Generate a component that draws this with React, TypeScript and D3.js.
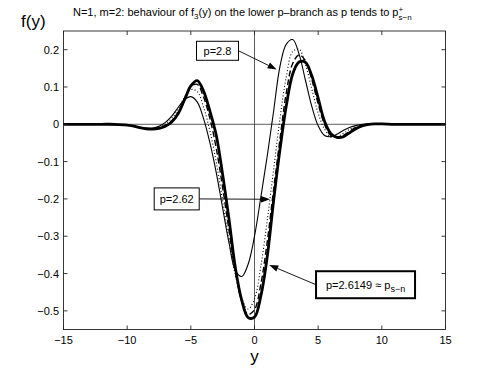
import * as d3 from 'd3';
import { useEffect, useRef } from 'react';

// sample points along y, and f3(y) for each p
const yValues = [-15, -14, -13, -12, -11, -10, -9.5, -9, -8.5, -8, -7.5, -7, -6.5, -6, -5.5, -5, -4.5, -4, -3.5, -3, -2.5, -2, -1.5, -1, -0.5, 0, 0.5, 1, 1.5, 2, 2.5, 3, 3.5, 4, 4.5, 5, 5.5, 6, 6.5, 7, 7.5, 8, 8.5, 9, 9.5, 10, 11, 12, 13, 14, 15];

const fP28 = [0, 0, 0, 0, -0.001, -0.002, -0.005, -0.009, -0.011, -0.010, -0.005, 0.005, 0.022, 0.045, 0.066, 0.074, 0.060, 0.015, -0.050, -0.130, -0.225, -0.318, -0.392, -0.408, -0.375, -0.300, -0.195, -0.085, 0.035, 0.155, 0.215, 0.227, 0.188, 0.118, 0.048, -0.004, -0.030, -0.033, -0.026, -0.016, -0.008, -0.003, 0, 0.001, 0.001, 0, 0, 0, 0, 0, 0];

const fDotted = [0, 0, 0, 0, -0.001, -0.002, -0.005, -0.009, -0.012, -0.012, -0.008, 0.001, 0.016, 0.040, 0.073, 0.093, 0.088, 0.046, -0.018, -0.102, -0.205, -0.312, -0.405, -0.468, -0.495, -0.468, -0.380, -0.258, -0.122, 0.015, 0.128, 0.195, 0.201, 0.160, 0.095, 0.030, -0.013, -0.034, -0.033, -0.024, -0.013, -0.005, -0.001, 0.001, 0.001, 0.001, 0, 0, 0, 0, 0];

const fP262 = [0, 0, 0, 0, -0.001, -0.002, -0.005, -0.009, -0.012, -0.013, -0.010, -0.003, 0.009, 0.032, 0.069, 0.101, 0.107, 0.073, 0.015, -0.065, -0.170, -0.285, -0.395, -0.475, -0.510, -0.497, -0.428, -0.315, -0.175, -0.040, 0.085, 0.163, 0.186, 0.170, 0.120, 0.055, 0, -0.030, -0.036, -0.030, -0.018, -0.008, -0.002, 0, 0.001, 0.001, 0, 0, 0, 0, 0];

const fP26149 = [0, 0, 0, 0, 0, -0.002, -0.005, -0.009, -0.012, -0.013, -0.011, -0.005, 0.006, 0.028, 0.065, 0.103, 0.117, 0.089, 0.035, -0.030, -0.135, -0.255, -0.385, -0.472, -0.518, -0.517, -0.460, -0.355, -0.205, -0.068, 0.050, 0.135, 0.167, 0.166, 0.130, 0.070, 0.008, -0.025, -0.035, -0.033, -0.022, -0.011, -0.004, 0, 0.001, 0.001, 0, 0, 0, 0, 0];

const xTicks = [-15, -10, -5, 0, 5, 10, 15];
const yTicks = [0.2, 0.1, 0, -0.1, -0.2, -0.3, -0.4, -0.5];

const FONT = '"Liberation Sans", Arial, Helvetica, sans-serif';
const minus = (v: number) => String(v).replace('-', '\u2212');

export default function App() {
  const ref = useRef<SVGSVGElement>(null);

  useEffect(() => {
    const svg = d3.select(ref.current);
    svg.selectAll('*').remove();

    const box = { left: 63.5, right: 445.5, top: 31, bottom: 329.5 };
    const x = d3.scaleLinear().domain([-15, 15]).range([box.left, box.right]);
    const y = d3.scaleLinear().domain([-0.55, 0.25]).range([box.bottom, box.top]);

    svg.append('rect').attr('width', 493).attr('height', 370).attr('fill', '#fff');

    // axis lines through the origin
    svg.append('line').attr('x1', x(0)).attr('x2', x(0)).attr('y1', box.top).attr('y2', box.bottom)
      .attr('stroke', '#333').attr('stroke-width', 0.8);
    svg.append('line').attr('x1', box.left).attr('x2', box.right).attr('y1', y(0)).attr('y2', y(0))
      .attr('stroke', '#333').attr('stroke-width', 0.8);

    const line = d3.line<number>()
      .x((_, i) => x(yValues[i]))
      .y((d) => y(d))
      .curve(d3.curveCatmullRom.alpha(0.5));

    const series = [
      { values: fP28, width: 1.1, dash: null },
      { values: fDotted, width: 1.1, dash: '1,2.2' },
      { values: fP262, width: 1.4, dash: '6,3' },
      { values: fP26149, width: 2.8, dash: null },
    ];
    series.forEach((s) => {
      svg.append('path').attr('d', line(s.values)).attr('fill', 'none')
        .attr('stroke', '#000').attr('stroke-width', s.width)
        .attr('stroke-dasharray', s.dash).attr('stroke-linejoin', 'round');
    });

    // frame and ticks
    svg.append('rect').attr('x', box.left).attr('y', box.top)
      .attr('width', box.right - box.left).attr('height', box.bottom - box.top)
      .attr('fill', 'none').attr('stroke', '#222').attr('stroke-width', 0.9);

    const tick = 4;
    xTicks.forEach((t) => {
      svg.append('line').attr('x1', x(t)).attr('x2', x(t)).attr('y1', box.bottom).attr('y2', box.bottom - tick).attr('stroke', '#222').attr('stroke-width', 0.9);
      svg.append('line').attr('x1', x(t)).attr('x2', x(t)).attr('y1', box.top).attr('y2', box.top + tick).attr('stroke', '#222').attr('stroke-width', 0.9);
      svg.append('text').attr('x', x(t)).attr('y', 344).attr('text-anchor', 'middle')
        .attr('font-family', FONT).attr('font-size', 11).text(minus(t));
    });
    yTicks.forEach((t) => {
      svg.append('line').attr('x1', box.left).attr('x2', box.left + tick).attr('y1', y(t)).attr('y2', y(t)).attr('stroke', '#222').attr('stroke-width', 0.9);
      svg.append('line').attr('x1', box.right).attr('x2', box.right - tick).attr('y1', y(t)).attr('y2', y(t)).attr('stroke', '#222').attr('stroke-width', 0.9);
      svg.append('text').attr('x', 59).attr('y', y(t) + 4).attr('text-anchor', 'end')
        .attr('font-family', FONT).attr('font-size', 11).text(minus(t));
    });

    // labels
    svg.append('text').attr('x', 254.5).attr('y', 362).attr('text-anchor', 'middle')
      .attr('font-family', FONT).attr('font-size', 17).text('y');
    svg.append('text').attr('x', 21).attr('y', 27)
      .attr('font-family', FONT).attr('font-size', 17).text('f(y)');

    const title = svg.append('text').attr('x', 73).attr('y', 16)
      .attr('font-family', FONT).attr('font-size', 11);
    title.append('tspan').text('N=1, m=2: behaviour of f');
    title.append('tspan').attr('dy', 3).attr('font-size', 8).text('3');
    title.append('tspan').attr('dy', -3).text('(y) on the lower p\u2013branch as p tends to p');
    title.append('tspan').attr('dy', -4).attr('font-size', 8).text('+');
    title.append('tspan').attr('dx', -4.7).attr('dy', 8).attr('font-size', 8).text('s\u2212n');

    // annotations: text boxes with arrows pointing at the curves
    const notes = [
      { cx: -2.906, cy: 0.197, w: 42, h: 19, border: 1, tx: 1.74, ty: 0.147, side: 'right', label: 'p=2.8', sub: '' },
      { cx: -6.11, cy: -0.2, w: 45, h: 22, border: 1, tx: 1.22, ty: -0.201, side: 'right', label: 'p=2.62', sub: '' },
      { cx: 8.72, cy: -0.43, w: 99, h: 27, border: 2, tx: 1.16, ty: -0.377, side: 'left', label: 'p=2.6149 \u2248 p', sub: 's\u2212n' },
    ];
    notes.forEach((n) => {
      const cx = x(n.cx), cy = y(n.cy);
      const sx = n.side === 'right' ? cx + n.w / 2 : cx - n.w / 2;
      const ex = x(n.tx), ey = y(n.ty);
      const ang = Math.atan2(ey - cy, ex - sx);
      const len = 9, half = 3.2;
      const bx = ex - len * Math.cos(ang), by = ey - len * Math.sin(ang);
      svg.append('line').attr('x1', sx).attr('y1', cy).attr('x2', bx).attr('y2', by)
        .attr('stroke', '#000').attr('stroke-width', 0.9);
      svg.append('polygon')
        .attr('points', [
          [ex, ey],
          [bx + half * Math.sin(ang), by - half * Math.cos(ang)],
          [bx - half * Math.sin(ang), by + half * Math.cos(ang)],
        ].map((p) => p.join(',')).join(' '))
        .attr('fill', '#000');
      svg.append('rect').attr('x', cx - n.w / 2).attr('y', cy - n.h / 2)
        .attr('width', n.w).attr('height', n.h)
        .attr('fill', '#fff').attr('stroke', '#000').attr('stroke-width', n.border);
      const t = svg.append('text').attr('x', cx).attr('y', cy + 4).attr('text-anchor', 'middle')
        .attr('font-family', FONT).attr('font-size', 11);
      t.append('tspan').text(n.label);
      if (n.sub) t.append('tspan').attr('dy', 3).attr('font-size', 9).text(n.sub);
    });
  }, []);

  return (
    <svg ref={ref} width={493} height={370}
      style={{ position: 'absolute', left: 0, top: 0, display: 'block' }} />
  );
}
